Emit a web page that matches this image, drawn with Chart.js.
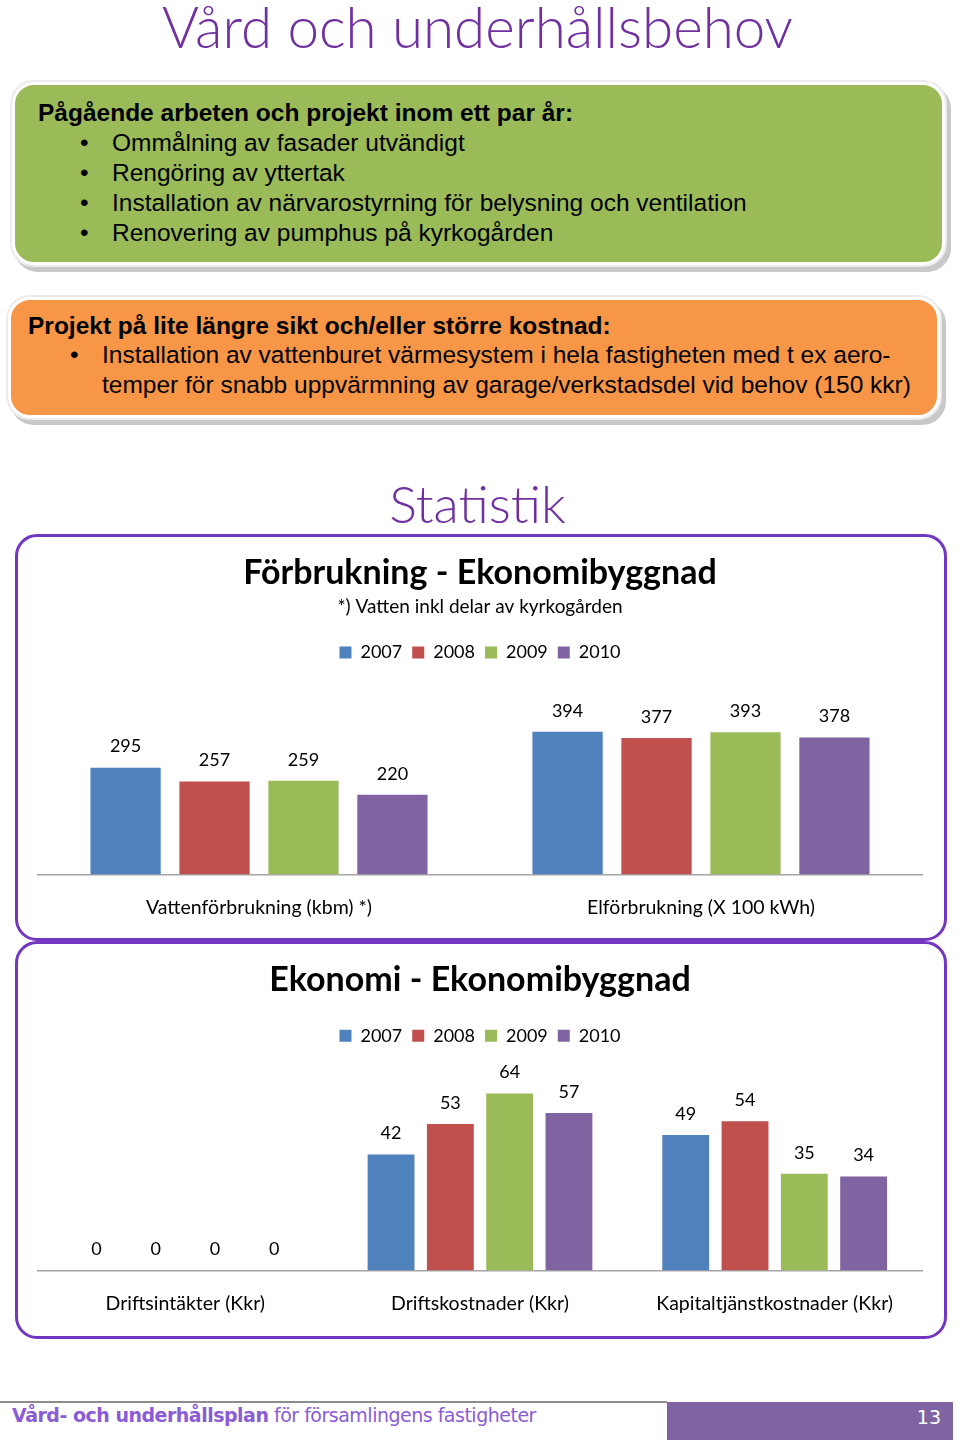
<!DOCTYPE html>
<html lang="sv">
<head>
  <meta charset="UTF-8">
  <title>Vård och underhållsbehov</title>
  <script src="https://cdn.jsdelivr.net/npm/chart.js"></script>
  <style>
    body { margin: 0; width: 960px; height: 1441px; background: #fff; position: relative; overflow: hidden; font-family: "Liberation Sans", Arial, sans-serif; }
    .page-title { position: absolute; left: 0; width: 955px; text-align: center; color: #7030a0; font-family: Lato, "DejaVu Sans", sans-serif; font-weight: 300; }
    .box { position: absolute; border-radius: 22px; border: 3px solid #fff; box-shadow: 0 0 0 2px #ececec, 4px 5px 0 2px #c8c8c8; }
    .box h3 { margin: 0; font-size: 24.5px; font-weight: bold; color: #000; }
    .box ul { margin: 0; padding: 0; list-style: none; }
    .box li { position: relative; font-size: 24.5px; line-height: 30px; color: #000; }
    .box li::before { content: "\2022"; position: absolute; left: -32px; }
    .chart-box { position: absolute; left: 15px; width: 926px; border: 3px solid #7236c0; border-radius: 22px; }
    .chart-wrap { position: absolute; left: 15px; width: 930px; }
    .footer-line { position: absolute; left: 0; top: 1401px; width: 667px; height: 2px; background: #8c8c8c; }
    .footer-text { position: absolute; left: 12px; top: 1404px; font-family: "DejaVu Sans", Tahoma, sans-serif; font-size: 19px; color: #8a5cd6; letter-spacing: -0.5px; }
    .footer-num { position: absolute; left: 667px; top: 1402px; width: 286px; height: 38px; background: #8064a2; color: #fff; font-family: "DejaVu Sans", sans-serif; font-size: 19px; text-align: right; box-sizing: border-box; padding-right: 12px; line-height: 30px; }
  </style>
</head>
<body>
  <div class="page-title" style="top: -8px; font-size: 56.5px;">Vård och underhållsbehov</div>

  <div class="box" style="left: 12px; top: 82px; width: 927px; height: 177px; background: #9bbb59;">
    <h3 style="position:absolute; left: 23px; top: 14px;">Pågående arbeten och projekt inom ett par år:</h3>
    <ul style="position:absolute; left: 97px; top: 43px;">
      <li>Ommålning av fasader utvändigt</li>
      <li>Rengöring av yttertak</li>
      <li>Installation av närvarostyrning för belysning och ventilation</li>
      <li>Renovering av pumphus på kyrkogården</li>
    </ul>
  </div>

  <div class="box" style="left: 8px; top: 297px; width: 926px; height: 115px; background: #f79646;">
    <h3 style="position:absolute; left: 17px; top: 12px;">Projekt på lite längre sikt och/eller större kostnad:</h3>
    <ul style="position:absolute; left: 91px; top: 40px; width: 830px;">
      <li style="line-height: 29.5px;">Installation av vattenburet värmesystem i hela fastigheten med t ex aero-<br>temper för snabb uppvärmning av garage/verkstadsdel vid behov (150 kkr)</li>
    </ul>
  </div>

  <div class="page-title" style="top: 472px; font-size: 52px;">Statistik</div>

  <div class="chart-box" style="top: 534px; height: 401px;"></div>
  <div class="chart-box" style="top: 941px; height: 392px;"></div>

  <div class="chart-wrap" style="top: 537px; height: 411px;"><canvas id="forbrukningChart"></canvas></div>
  <div class="chart-wrap" style="top: 944px; height: 400px;"><canvas id="ekonomiChart"></canvas></div>

  <div class="footer-line"></div>
  <div class="footer-text"><b>Vård- och underhållsplan</b> för församlingens fastigheter</div>
  <div class="footer-num">13</div>

  <script>
    // Data
    const years = ['2007', '2008', '2009', '2010'];
    const yearColors = ['#4f81bd', '#c0504d', '#9bbb59', '#8064a2'];

    const forbrukningCategories = ['Vattenförbrukning (kbm) *)', 'Elförbrukning (X 100 kWh)'];
    const vatten = [295, 257, 259, 220];
    const el = [394, 377, 393, 378];

    const ekonomiCategories = ['Driftsintäkter (Kkr)', 'Driftskostnader (Kkr)', 'Kapitaltjänstkostnader (Kkr)'];
    const driftsintakter = [0, 0, 0, 0];
    const driftskostnader = [42, 53, 64, 57];
    const kapitaltjanst = [49, 54, 35, 34];

    const font = 'Lato, "Open Sans", sans-serif';
    Chart.defaults.font.family = font;
    Chart.defaults.color = '#000';

    // values on top of bars
    const valueLabels = {
      id: 'valueLabels',
      afterDatasetsDraw(chart, args, opts) {
        const ctx = chart.ctx;
        ctx.save();
        ctx.font = '18px ' + font;
        ctx.fillStyle = '#000';
        ctx.textAlign = 'center';
        ctx.textBaseline = 'middle';
        chart.data.datasets.forEach((ds, i) => {
          chart.getDatasetMeta(i).data.forEach((bar, j) => {
            ctx.fillText(ds.data[j], bar.x, bar.y - opts.offset);
          });
        });
        ctx.restore();
      }
    };

    function datasetsFrom(seriesByCategory) {
      return years.map((y, i) => ({
        label: y,
        data: seriesByCategory.map(s => s[i]),
        backgroundColor: yearColors[i],
        categoryPercentage: 0.805,
        barPercentage: 0.79
      }));
    }

    function makeOptions(titleText, subtitleText, yMax) {
      return {
        responsive: true,
        maintainAspectRatio: false,
        animation: false,
        layout: { padding: { left: 23, right: 23, bottom: 16 } },
        plugins: {
          title: { display: true, text: titleText, font: { size: 34, weight: 'bold' }, color: '#000', padding: { top: 16, bottom: subtitleText ? 2 : 16 } },
          subtitle: { display: !!subtitleText, text: subtitleText, font: { size: 19 }, color: '#000', padding: { top: 0, bottom: 15 } },
          legend: {
            display: true,
            labels: { boxWidth: 12, boxHeight: 12, font: { size: 18 }, color: '#000', padding: 10 }
          },
          tooltip: { enabled: false },
          valueLabels: { offset: 21 }
        },
        scales: {
          x: {
            grid: { display: false },
            border: { display: true, color: '#a6a6a6', width: 1.5 },
            ticks: { font: { size: 19.5 }, color: '#000', padding: 13 }
          },
          y: { display: false, min: 0, max: yMax }
        }
      };
    }

    new Chart(document.getElementById('forbrukningChart'), {
      type: 'bar',
      data: { labels: forbrukningCategories, datasets: datasetsFrom([vatten, el]) },
      options: makeOptions('Förbrukning - Ekonomibyggnad', '*) Vatten inkl delar av kyrkogården', 560),
      plugins: [valueLabels]
    });

    new Chart(document.getElementById('ekonomiChart'), {
      type: 'bar',
      data: { labels: ekonomiCategories, datasets: datasetsFrom([driftsintakter, driftskostnader, kapitaltjanst]) },
      options: makeOptions('Ekonomi - Ekonomibyggnad', '', 78),
      plugins: [valueLabels]
    });
  </script>
</body>
</html>
